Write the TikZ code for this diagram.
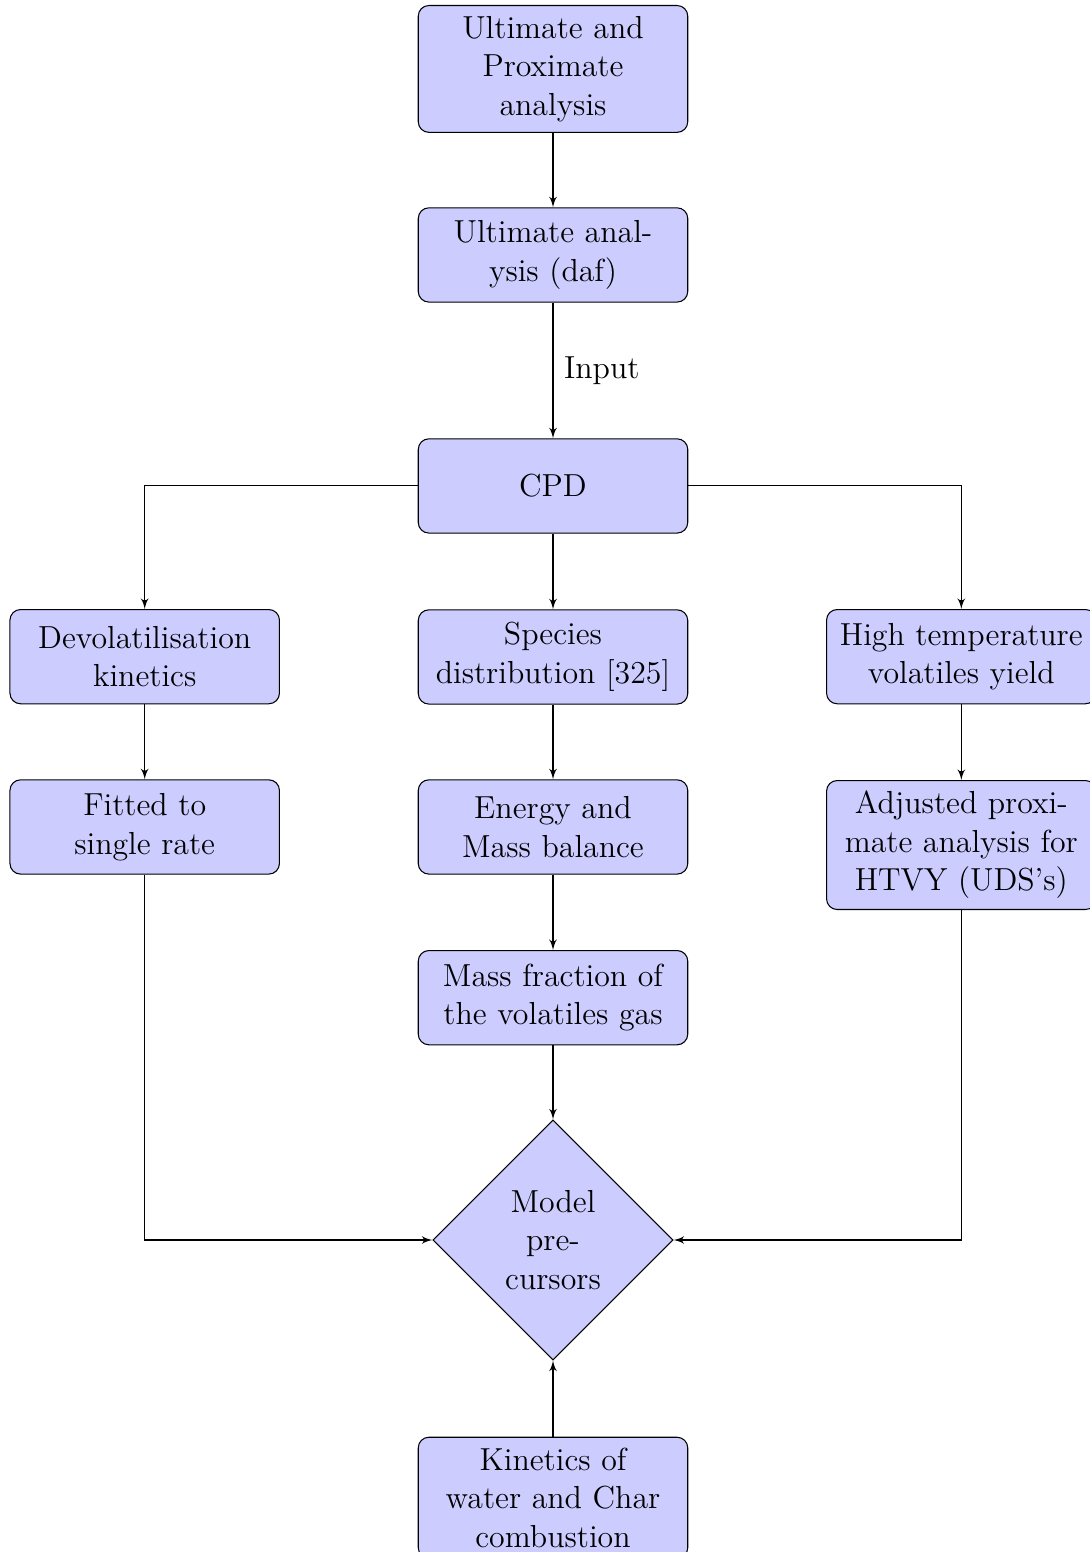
\documentclass[tikz,border=0pt,12pt]{standalone}
\usetikzlibrary{shapes.geometric,arrows}
\begin{document}
\begin{tikzpicture}[x=0.37665pt,y=-0.37665pt,
  blockbox/.style={rectangle, draw, fill=blue!20, text width=93.5pt, align=center, rounded corners, minimum height=35.5pt, anchor=north},
  decisionbox/.style={diamond, draw, fill=blue!20, text width=53pt, align=center, inner sep=0pt},
  arr/.style={draw, -latex'}]
\useasboundingbox (0,0) rectangle (1089,1552);
\node[blockbox] (uap) at (553,5) {Ultimate and\\Proximate\\analysis};
\node[blockbox] (ua) at (553,207.3) {Ultimate anal-\\ysis (daf)};
\node[blockbox] (cpd) at (553,438.3) {CPD};
\node[blockbox] (devol) at (144.7,609) {Devolatilisation\\kinetics};
\node[blockbox] (spec) at (553,609.3) {Species\\distribution [325]};
\node[blockbox] (htvy) at (961.3,609) {High temperature\\volatiles yield};
\node[blockbox] (fit) at (144.7,779.3) {Fitted to\\single rate};
\node[blockbox] (emb) at (553,779.3) {Energy and\\Mass balance};
\node[blockbox] (adj) at (961.3,780) {Adjusted proxi-\\mate analysis for\\HTVY (UDS's)};
\node[blockbox] (mf) at (553,950) {Mass fraction of\\the volatiles gas};
\node[decisionbox] (model) at (553,1240) {Model\\pre-\\cursors};
\node[blockbox] (kin) at (553,1436.7) {Kinetics of\\water and Char\\combustion};
\path[arr] (uap) -- (ua);
\path[arr] (ua) -- node[right] {Input} (cpd);
\path[arr] (cpd) -- (spec);
\path[arr] (cpd.west) -| (devol.north);
\path[arr] (cpd.east) -| (htvy.north);
\path[arr] (devol) -- (fit);
\path[arr] (spec) -- (emb);
\path[arr] (htvy) -- (adj);
\path[arr] (emb) -- (mf);
\path[arr] (mf) -- (model);
\path[arr] (fit.south) |- (model.west);
\path[arr] (adj.south) |- (model.east);
\path[arr] (kin) -- (model);
\end{tikzpicture}
\end{document}
